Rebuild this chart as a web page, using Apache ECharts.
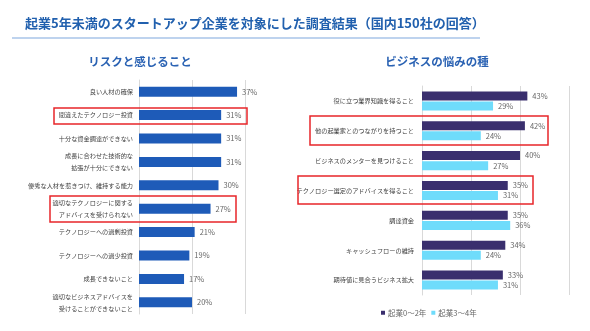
<!DOCTYPE html>
<html>
<head>
<meta charset="utf-8">
<script src="https://cdn.jsdelivr.net/npm/echarts@6/dist/echarts.min.js"></script>
<style>
  html, body { margin: 0; padding: 0; background: #fff; }
  #chart { width: 590px; height: 331px; }
</style>
</head>
<body>
<div id="chart"></div>
<script>
var riskCategories = [
    '良い人材の確保',
    '間違えたテクノロジー投資',
    '十分な資金調達ができない',
    '成長に合わせた技術的な\n拡張が十分にできない',
    '優秀な人材を惹きつけ、維持する能力',
    '適切なテクノロジーに関する\nアドバイスを受けられない',
    'テクノロジーへの過剰投資',
    'テクノロジーへの過少投資',
    '成長できないこと',
    '適切なビジネスアドバイスを\n受けることができないこと'
];
var riskValues = [37, 31, 31, 31, 30, 27, 21, 19, 17, 20];

var worryCategories = [
    '役に立つ業界知識を得ること',
    '他の起業家とのつながりを持つこと',
    'ビジネスのメンターを見つけること',
    'テクノロジー選定のアドバイスを得ること',
    '調達資金',
    'キャッシュフローの維持',
    '期待値に見合うビジネス拡大'
];
var seriesNames = ['起業0～2年', '起業3～4年'];
var early = [43, 42, 40, 35, 35, 34, 33];
var later = [29, 24, 27, 31, 36, 24, 31];

var font = '"Noto Sans CJK JP", "Noto Sans", sans-serif';
var gridColor = '#d9d9d9';

function xAx(idx, max) {
    return {
        type: 'value', gridIndex: idx, min: 0, max: max, interval: 20,
        axisLabel: { show: false }, axisTick: { show: false }, axisLine: { show: false },
        splitLine: { lineStyle: { color: gridColor, width: 1 } }
    };
}
function yAx(idx, cats, margin) {
    return {
        type: 'category', gridIndex: idx, data: cats, inverse: true,
        axisTick: { show: false },
        axisLine: { lineStyle: { color: gridColor } },
        axisLabel: { fontFamily: font, fontSize: 6.2, color: '#404040', lineHeight: 12, margin: margin }
    };
}
var valLabel = {
    show: true, position: 'right', formatter: '{c}%',
    fontFamily: font, fontSize: 7.5, color: '#666', distance: 5
};

function box(x, y, w, h) {
    return {
        type: 'rect', shape: { x: x, y: y, width: w, height: h },
        style: { fill: 'none', stroke: '#e8262a', lineWidth: 1.5 }, z: 10
    };
}

var chart = echarts.init(document.getElementById('chart'));
chart.setOption({
    animation: false,
    textStyle: { fontFamily: font },
    title: [
        { text: '起業5年未満のスタートアップ企業を対象にした調査結果（国内150社の回答）',
          left: 20, top: 12,
          textStyle: { fontFamily: font, fontSize: 13, fontWeight: 'bold', color: '#2160ae' } },
        { text: 'リスクと感じること', left: 135, top: 51, textAlign: 'center',
          textStyle: { fontFamily: font, fontSize: 11.5, fontWeight: 'bold', color: '#2a62b3' } },
        { text: 'ビジネスの悩みの種', left: 432, top: 51, textAlign: 'center',
          textStyle: { fontFamily: font, fontSize: 11.5, fontWeight: 'bold', color: '#2a62b3' } }
    ],
    legend: {
        data: seriesNames, left: 376, top: 304, icon: 'rect',
        itemWidth: 4, itemHeight: 4, itemGap: 5,
        textStyle: { fontFamily: font, fontSize: 7.5, color: '#666', padding: [0, 0, 0, -2] }
    },
    grid: [
        { left: 139, top: 80, width: 106, height: 234 },
        { left: 422, top: 86, width: 147, height: 209 }
    ],
    xAxis: [xAx(0, 40), xAx(1, 60)],
    yAxis: [yAx(0, riskCategories, 6), yAx(1, worryCategories, 8)],
    series: [
        { name: 'リスク', type: 'bar', xAxisIndex: 0, yAxisIndex: 0, data: riskValues,
          barWidth: 10, itemStyle: { color: '#1e5bb8' }, label: valLabel },
        { name: seriesNames[0], type: 'bar', xAxisIndex: 1, yAxisIndex: 1, data: early,
          barWidth: 9, barGap: '12%', itemStyle: { color: '#3a2f6e' }, label: valLabel },
        { name: seriesNames[1], type: 'bar', xAxisIndex: 1, yAxisIndex: 1, data: later,
          barWidth: 9, barGap: '12%', itemStyle: { color: '#6fdcfb' }, label: valLabel }
    ],
    graphic: [
        { type: 'line', shape: { x1: 12, y1: 38, x2: 480, y2: 38 },
          style: { stroke: '#a9c4e8', lineWidth: 1.5 } },
        box(54, 108, 193, 16),
        box(50, 196, 186, 26),
        box(310, 116, 238, 29),
        box(298, 176, 235, 28)
    ]
});
</script>
</body>
</html>
